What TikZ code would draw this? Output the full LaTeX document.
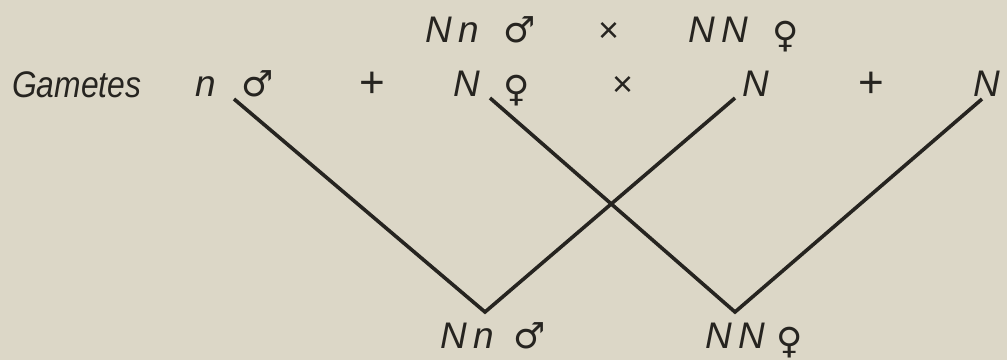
\documentclass[tikz,border=0pt]{standalone}
\usepackage{fontspec}
\setmainfont{Liberation Sans}
\newfontfamily\symfont{DejaVu Sans}
\newfontfamily\narrowfont{Liberation Sans}[FakeStretch=0.86]
\newfontfamily\widefont{Liberation Sans}[LetterSpace=18]
\definecolor{paper}{RGB}{220,215,199}
\definecolor{ink}{RGB}{38,36,32}
\begin{document}
\begin{tikzpicture}[x=1pt,y=-1pt,
  lbl/.style={inner sep=0pt, anchor=base west, text=ink, font=\fontsize{37}{37}\widefont\itshape},
  word/.style={inner sep=0pt, anchor=base west, text=ink, font=\fontsize{37}{37}\narrowfont\itshape},
  sym/.style={inner sep=0pt, anchor=base west, text=ink, font=\fontsize{36}{36}\symfont},
  op/.style={inner sep=0pt, anchor=base west, text=ink, font=\fontsize{36}{36}\selectfont},
  plusop/.style={inner sep=0pt, anchor=base west, text=ink, font=\fontsize{44}{44}\selectfont},
  link/.style={draw=ink, line width=3.6pt}]
\fill[paper] (0,0) rectangle (1007,360);
\useasboundingbox (0,0) rectangle (1007,360);
% parents
\node[lbl] (p1) at (425,42) {Nn};
\node[sym] (p1s) at (503,42) {♂};
\node[op]  (px) at (598,42) {×};
\node[lbl] (p2) at (688,42) {NN};
\node[sym] (p2s) at (772,47) {♀};
% gametes
\node[word] (gam) at (12,97) {Gametes};
\node[lbl] (g1) at (195,96) {n};
\node[sym] (g1s) at (241,96) {♂};
\node[plusop] (plus1) at (359,97) {+};
\node[lbl] (g2) at (453,96) {N};
\node[sym] (g2s) at (503,101) {♀};
\node[op]  (gx) at (612,96) {×};
\node[lbl] (g3) at (742,96) {N};
\node[plusop] (plus2) at (858,97) {+};
\node[lbl] (g4) at (973,96) {N};
% offspring
\node[lbl] (o1) at (440,348) {Nn};
\node[sym] (o1s) at (513,348) {♂};
\node[lbl] (o2) at (705,348) {NN};
\node[sym] (o2s) at (776,353) {♀};
% connectors
\coordinate (s1) at (234,99);
\coordinate (s2) at (490,98);
\coordinate (s3) at (735,98);
\coordinate (s4) at (982,99);
\coordinate (v1) at (485,312);
\coordinate (v2) at (735,312);
\draw[link] (s1) -- (v1) -- (s3);
\draw[link] (s2) -- (v2) -- (s4);
\end{tikzpicture}
\end{document}
